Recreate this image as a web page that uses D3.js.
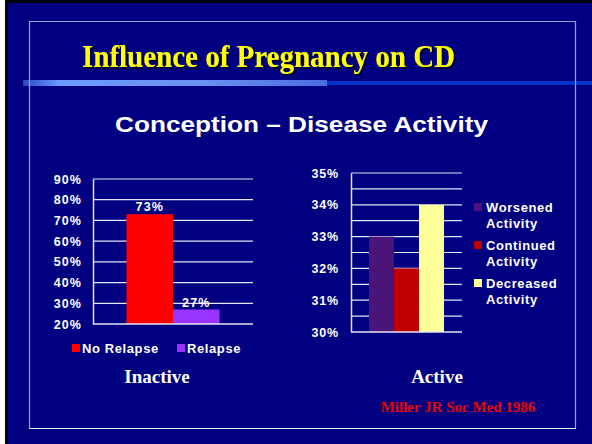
<!DOCTYPE html>
<html>
<head>
<meta charset="utf-8">
<script src="https://cdn.jsdelivr.net/npm/d3@7"></script>
<style>
  body { margin: 0; background: #fff; }
  svg { display: block; }
</style>
</head>
<body>
<div id="chart"></div>
<script>
// left chart: disease inactive at conception
const inactiveSeries = ['No Relapse', 'Relapse']
const inactiveValues = [73, 27]
const inactiveTicks = [20, 30, 40, 50, 60, 70, 80, 90]

// right chart: disease active at conception
const activeSeries = ['Worsened Activity', 'Continued Activity', 'Decreased Activity']
const activeValues = [33, 32, 34]
const activeTicks = [30, 31, 32, 33, 34, 35]
const activeGrid = [30, 30.5, 31, 31.5, 32, 32.5, 33, 33.5, 34, 34.5, 35]

const W = 592
const H = 444
const svg = d3.select('#chart').append('svg').attr('width', W).attr('height', H)

const defs = svg.append('defs')
const grad = defs.append('linearGradient').attr('id', 'bar')
grad.append('stop').attr('offset', '0%').attr('stop-color', '#2a44c8')
grad.append('stop').attr('offset', '12%').attr('stop-color', '#6a9cff')
grad.append('stop').attr('offset', '60%').attr('stop-color', '#6a90f0')
grad.append('stop').attr('offset', '100%').attr('stop-color', '#4a6ce0')

const shadow = defs.append('filter').attr('id', 'shadow')
  .attr('x', '-5%').attr('y', '-20%').attr('width', '110%').attr('height', '140%')
shadow.append('feDropShadow').attr('dx', 2).attr('dy', 2).attr('stdDeviation', 0.4)
  .attr('flood-color', '#000030').attr('flood-opacity', 1)

// slide background
svg.append('rect').attr('x', 5).attr('y', 0).attr('width', W - 5).attr('height', H).attr('fill', '#000')
svg.append('rect').attr('x', 8).attr('y', 3).attr('width', W - 8).attr('height', H - 3).attr('fill', '#000080')

// title rule
svg.append('rect').attr('x', 325).attr('y', 81).attr('width', W - 325).attr('height', 4).attr('fill', '#0033cc')
svg.append('rect').attr('x', 23).attr('y', 80).attr('width', 304).attr('height', 6).attr('fill', 'url(#bar)')

// inner frame
svg.append('path')
  .attr('d', 'M29.5,428 V21.5 H575.5 V428')
  .attr('fill', 'none').attr('stroke', '#a0a0d0').attr('stroke-width', 1.2)
svg.append('line').attr('x1', 29).attr('x2', 576).attr('y1', 428.5).attr('y2', 428.5)
  .attr('stroke', '#e8e8f4').attr('stroke-width', 1.2)

const serif = 'Liberation Serif, Times New Roman, serif'
const sans = 'Liberation Sans, Arial, sans-serif'

// title
svg.append('text').attr('x', 82).attr('y', 67)
  .attr('textLength', 373).attr('lengthAdjust', 'spacingAndGlyphs')
  .attr('font-family', serif).attr('font-weight', 'bold')
  .attr('font-size', 32).attr('fill', '#ffff00').attr('filter', 'url(#shadow)')
  .text('Influence of Pregnancy on CD')

svg.append('text').attr('x', 115).attr('y', 132)
  .attr('textLength', 373).attr('lengthAdjust', 'spacingAndGlyphs')
  .attr('font-family', sans).attr('font-weight', 'bold')
  .attr('font-size', 22).attr('fill', '#fff').text('Conception \u2013 Disease Activity')

// ---- left chart ----
const y1 = d3.scaleLinear().domain([20, 90]).range([324, 179])
const x1 = d3.scaleBand().domain(inactiveSeries).range([93, 253]).paddingInner(0).paddingOuter(0.72)
const c1 = d3.scaleOrdinal().domain(inactiveSeries).range(['#ff0000', '#9933ff'])

const g1 = svg.append('g')
g1.selectAll('line.grid').data(inactiveTicks.slice(1)).enter().append('line')
  .attr('class', 'grid')
  .attr('x1', 93).attr('x2', 253)
  .attr('y1', d => y1(d)).attr('y2', d => y1(d))
  .attr('stroke', '#e4e4f0').attr('stroke-width', 1.2)

g1.selectAll('rect').data(inactiveValues).enter().append('rect')
  .attr('x', (d, i) => x1(inactiveSeries[i]))
  .attr('width', x1.bandwidth())
  .attr('y', d => y1(d))
  .attr('height', d => y1(20) - y1(d))
  .attr('fill', (d, i) => c1(inactiveSeries[i]))

g1.selectAll('text.val').data(inactiveValues).enter().append('text')
  .attr('class', 'val')
  .attr('x', (d, i) => x1(inactiveSeries[i]) + x1.bandwidth() / 2)
  .attr('y', d => y1(d) - 3)
  .attr('text-anchor', 'middle')
  .attr('font-family', sans).attr('font-weight', 'bold').attr('font-size', 12.5)
  .attr('letter-spacing', 1.1)
  .attr('fill', '#fff').text(d => d + '%')

const ax1 = g1.append('g').attr('transform', 'translate(93,0)')
  .call(d3.axisLeft(y1).tickValues(inactiveTicks).tickSize(0).tickPadding(11).tickFormat(d => d + '%'))
ax1.select('.domain').attr('stroke', '#e4e4f0').attr('stroke-width', 1.5)
ax1.selectAll('text').attr('font-family', sans).attr('font-weight', 'bold')
  .attr('font-size', 12.5).attr('letter-spacing', 1.1).attr('fill', '#fff')
g1.append('line').attr('x1', 93).attr('x2', 253).attr('y1', y1(20)).attr('y2', y1(20))
  .attr('stroke', '#e4e4f0').attr('stroke-width', 1.5)

// legend
const leg1 = g1.selectAll('g.leg').data(inactiveSeries).enter().append('g')
  .attr('transform', (d, i) => 'translate(' + [72, 177][i] + ',344)')
leg1.append('rect').attr('width', 8).attr('height', 8).attr('fill', d => c1(d))
leg1.append('text').attr('x', 10).attr('y', 9)
  .attr('font-family', sans).attr('font-weight', 'bold').attr('font-size', 13)
  .attr('letter-spacing', 0.6)
  .attr('fill', '#fff').text(d => d)

// ---- right chart ----
const y2 = d3.scaleLinear().domain([30, 35]).range([332, 173])
const x2 = d3.scaleBand().domain(activeSeries).range([351, 462]).paddingInner(0).paddingOuter(0.72)
const c2 = d3.scaleOrdinal().domain(activeSeries).range(['#4b1478', '#c00000', '#ffff99'])

const g2 = svg.append('g')
g2.selectAll('line.grid').data(activeGrid.slice(1)).enter().append('line')
  .attr('class', 'grid')
  .attr('x1', 351).attr('x2', 462)
  .attr('y1', d => y2(d)).attr('y2', d => y2(d))
  .attr('stroke', '#e4e4f0').attr('stroke-width', 1.2)

g2.selectAll('rect').data(activeValues).enter().append('rect')
  .attr('x', (d, i) => x2(activeSeries[i]))
  .attr('width', x2.bandwidth())
  .attr('y', d => y2(d))
  .attr('height', d => y2(30) - y2(d))
  .attr('fill', (d, i) => c2(activeSeries[i]))

const ax2 = g2.append('g').attr('transform', 'translate(351,0)')
  .call(d3.axisLeft(y2).tickValues(activeTicks).tickSize(0).tickPadding(12).tickFormat(d => d + '%'))
ax2.select('.domain').attr('stroke', '#e4e4f0').attr('stroke-width', 1.5)
ax2.selectAll('text').attr('font-family', sans).attr('font-weight', 'bold')
  .attr('font-size', 12.5).attr('fill', '#fff').attr('letter-spacing', 0.8)
g2.append('line').attr('x1', 351).attr('x2', 462).attr('y1', y2(30)).attr('y2', y2(30))
  .attr('stroke', '#e4e4f0').attr('stroke-width', 1.5)

const leg2 = g2.selectAll('g.leg').data(activeSeries).enter().append('g')
  .attr('transform', (d, i) => 'translate(474,' + [203, 241, 279][i] + ')')
leg2.append('rect').attr('width', 8).attr('height', 8).attr('fill', d => c2(d))
const lt = leg2.append('text')
  .attr('font-family', sans).attr('font-weight', 'bold').attr('font-size', 13)
  .attr('fill', '#fff').attr('letter-spacing', 0.6)
lt.append('tspan').attr('x', 12).attr('y', 9).text(d => d.split(' ')[0])
lt.append('tspan').attr('x', 12).attr('y', 25).text(d => d.split(' ')[1])

// captions
svg.append('text').attr('x', 157).attr('y', 383).attr('text-anchor', 'middle')
  .attr('font-family', serif).attr('font-weight', 'bold')
  .attr('font-size', 19).attr('fill', '#fff').text('Inactive')
svg.append('text').attr('x', 437).attr('y', 383).attr('text-anchor', 'middle')
  .attr('font-family', serif).attr('font-weight', 'bold')
  .attr('font-size', 19).attr('fill', '#fff').text('Active')
svg.append('text').attr('x', 458).attr('y', 412).attr('text-anchor', 'middle')
  .attr('font-family', serif).attr('font-weight', 'bold')
  .attr('font-size', 15).attr('fill', '#ee0000').text('Miller JR Soc Med 1986')
</script>
</body>
</html>
